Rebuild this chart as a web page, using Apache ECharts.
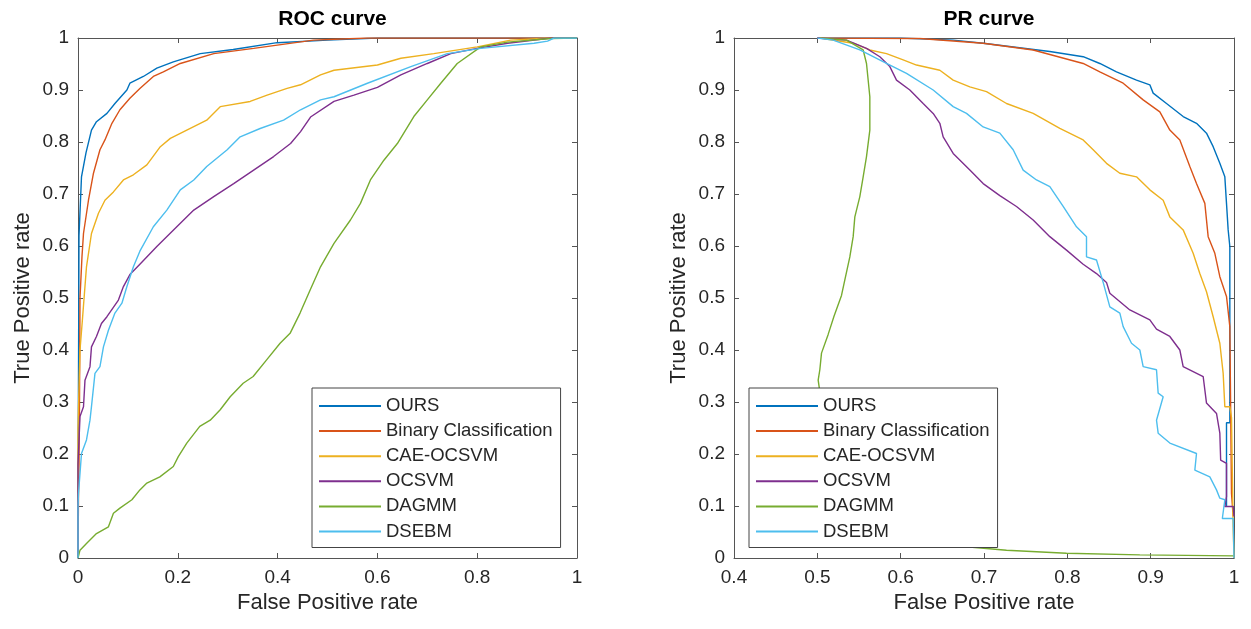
<!DOCTYPE html>
<html>
<head>
<meta charset="utf-8">
<script src="https://cdn.jsdelivr.net/npm/echarts@6/dist/echarts.min.js"></script>
<style>html,body{margin:0;padding:0;background:#fff;}#c{width:1251px;height:629px;}</style>
</head>
<body>
<div id="c"></div>
<script>
// ---------- DATA ----------
const seriesNames = ['OURS', 'Binary Classification', 'CAE-OCSVM', 'OCSVM', 'DAGMM', 'DSEBM'];
const seriesColors = ['#0072BD', '#D95319', '#EDB120', '#7E2F8E', '#77AC30', '#4DBEEE'];
const rocTicksX = [0, 0.2, 0.4, 0.6, 0.8, 1];
const prTicksX = [0.4, 0.5, 0.6, 0.7, 0.8, 0.9, 1];

const rocOurs = [[0,0],[0,0.1],[0.001,0.35],[0.002,0.62],[0.007,0.733],[0.016,0.779],[0.027,0.823],[0.037,0.839],[0.058,0.855],[0.074,0.874],[0.098,0.9],[0.104,0.913],[0.131,0.926],[0.158,0.942],[0.191,0.954],[0.245,0.97],[0.311,0.978],[0.399,0.991],[0.5,0.996],[0.6,1],[1,1]];
const rocBinary = [[0,0],[0.001,0.12],[0.002,0.18],[0.003,0.3],[0.004,0.5],[0.008,0.58],[0.011,0.624],[0.021,0.688],[0.031,0.74],[0.044,0.785],[0.054,0.804],[0.068,0.836],[0.084,0.862],[0.104,0.884],[0.124,0.903],[0.151,0.926],[0.171,0.935],[0.205,0.951],[0.272,0.97],[0.352,0.98],[0.472,0.996],[0.58,1],[1,1]];
const rocCae = [[0,0],[0,0.25],[0.001,0.291],[0.004,0.4],[0.009,0.46],[0.017,0.56],[0.027,0.624],[0.041,0.663],[0.054,0.688],[0.071,0.704],[0.091,0.727],[0.111,0.737],[0.138,0.756],[0.165,0.791],[0.185,0.807],[0.218,0.823],[0.258,0.842],[0.285,0.868],[0.345,0.878],[0.379,0.89],[0.419,0.903],[0.446,0.91],[0.486,0.929],[0.513,0.938],[0.6,0.948],[0.647,0.961],[0.713,0.97],[0.8,0.983],[0.867,0.996],[0.948,1],[1,1]];
const rocOcsvm = [[0,0],[0,0.18],[0.004,0.272],[0.011,0.291],[0.014,0.342],[0.024,0.368],[0.027,0.406],[0.037,0.426],[0.047,0.451],[0.058,0.464],[0.081,0.496],[0.091,0.522],[0.104,0.545],[0.124,0.565],[0.158,0.599],[0.198,0.637],[0.232,0.669],[0.272,0.695],[0.312,0.72],[0.352,0.746],[0.392,0.772],[0.426,0.797],[0.446,0.82],[0.466,0.848],[0.513,0.878],[0.553,0.89],[0.6,0.905],[0.647,0.929],[0.7,0.951],[0.747,0.97],[0.8,0.98],[0.861,0.99],[0.948,1],[1,1]];
const rocDagmm = [[0,0],[0.001,0.0025],[0.004,0.015],[0.017,0.028],[0.037,0.047],[0.061,0.06],[0.071,0.086],[0.084,0.096],[0.108,0.112],[0.124,0.131],[0.138,0.144],[0.164,0.156],[0.191,0.176],[0.201,0.195],[0.218,0.221],[0.244,0.253],[0.265,0.265],[0.285,0.285],[0.305,0.31],[0.331,0.336],[0.351,0.349],[0.378,0.381],[0.405,0.413],[0.425,0.432],[0.445,0.471],[0.465,0.515],[0.486,0.56],[0.513,0.605],[0.546,0.65],[0.566,0.682],[0.586,0.727],[0.613,0.765],[0.64,0.797],[0.673,0.849],[0.7,0.881],[0.727,0.913],[0.76,0.951],[0.807,0.983],[0.861,0.992],[0.948,0.999],[1,1]];
const rocDsebm = [[0,0],[0,0.1],[0.001,0.124],[0.007,0.201],[0.017,0.227],[0.024,0.265],[0.027,0.291],[0.034,0.355],[0.044,0.368],[0.051,0.406],[0.061,0.438],[0.074,0.471],[0.088,0.49],[0.098,0.522],[0.111,0.56],[0.124,0.59],[0.151,0.637],[0.178,0.669],[0.205,0.708],[0.232,0.727],[0.258,0.753],[0.299,0.785],[0.325,0.81],[0.365,0.826],[0.412,0.842],[0.446,0.862],[0.486,0.881],[0.513,0.887],[0.58,0.913],[0.667,0.945],[0.74,0.97],[0.807,0.98],[0.914,0.99],[0.941,0.994],[0.954,1],[1,1]];

const prOurs = [[0.5,1],[0.6,1],[0.663,0.996],[0.699,0.99],[0.779,0.974],[0.819,0.964],[0.839,0.951],[0.859,0.935],[0.883,0.919],[0.899,0.91],[0.903,0.894],[0.919,0.874],[0.939,0.849],[0.955,0.836],[0.967,0.817],[0.975,0.791],[0.983,0.759],[0.989,0.733],[0.991,0.682],[0.993,0.631],[0.995,0.599],[0.995,0.26],[0.991,0.26],[0.991,0.1]];
const prBinary = [[0.5,1],[0.623,0.999],[0.699,0.99],[0.759,0.977],[0.819,0.951],[0.839,0.935],[0.867,0.913],[0.891,0.881],[0.911,0.858],[0.923,0.823],[0.935,0.804],[0.947,0.753],[0.955,0.72],[0.965,0.682],[0.969,0.618],[0.977,0.586],[0.983,0.541],[0.991,0.503],[0.995,0.445],[0.997,0.124],[0.999,0.08]];
const prCae = [[0.503,1],[0.543,0.99],[0.563,0.977],[0.583,0.97],[0.603,0.958],[0.619,0.948],[0.647,0.938],[0.663,0.919],[0.683,0.906],[0.703,0.897],[0.727,0.874],[0.759,0.855],[0.791,0.826],[0.819,0.804],[0.831,0.785],[0.847,0.759],[0.863,0.74],[0.883,0.733],[0.899,0.708],[0.915,0.688],[0.923,0.656],[0.939,0.631],[0.951,0.586],[0.959,0.547],[0.967,0.512],[0.975,0.464],[0.983,0.413],[0.987,0.355],[0.989,0.291],[0.995,0.291],[0.997,0.27],[0.999,0.06],[1,0]];
const prOcsvm = [[0.5,1],[0.535,0.996],[0.559,0.98],[0.575,0.964],[0.587,0.945],[0.595,0.919],[0.611,0.9],[0.627,0.874],[0.639,0.855],[0.647,0.836],[0.651,0.81],[0.663,0.778],[0.683,0.746],[0.699,0.72],[0.719,0.697],[0.739,0.676],[0.759,0.65],[0.779,0.618],[0.799,0.592],[0.819,0.565],[0.835,0.547],[0.847,0.53],[0.851,0.509],[0.875,0.477],[0.899,0.458],[0.907,0.44],[0.923,0.426],[0.935,0.4],[0.939,0.368],[0.963,0.349],[0.967,0.298],[0.979,0.278],[0.983,0.24],[0.984,0.188],[0.991,0.182],[0.991,0.118],[0.989,0.099],[0.999,0.099],[1,0.08]];
const prDagmm = [[0.503,1],[0.535,0.996],[0.555,0.977],[0.559,0.951],[0.563,0.887],[0.563,0.823],[0.559,0.772],[0.555,0.733],[0.551,0.695],[0.545,0.656],[0.543,0.618],[0.539,0.579],[0.533,0.535],[0.529,0.505],[0.52,0.465],[0.513,0.43],[0.505,0.394],[0.503,0.362],[0.501,0.342],[0.503,0.32],[0.655,0.025],[0.727,0.015],[0.799,0.009],[0.887,0.006],[1,0.004]];
const prDsebm = [[0.5,1],[0.519,0.996],[0.551,0.977],[0.583,0.951],[0.607,0.932],[0.639,0.9],[0.663,0.868],[0.679,0.855],[0.699,0.829],[0.719,0.817],[0.735,0.785],[0.747,0.746],[0.763,0.727],[0.779,0.714],[0.795,0.676],[0.811,0.637],[0.823,0.618],[0.823,0.579],[0.835,0.573],[0.843,0.53],[0.851,0.483],[0.863,0.471],[0.867,0.445],[0.877,0.413],[0.887,0.4],[0.891,0.368],[0.907,0.362],[0.909,0.317],[0.915,0.31],[0.907,0.265],[0.909,0.24],[0.923,0.221],[0.955,0.201],[0.953,0.169],[0.971,0.156],[0.979,0.131],[0.983,0.115],[0.989,0.112],[0.986,0.076],[0.999,0.076],[1,0]];

const rocData = [rocOurs, rocBinary, rocCae, rocOcsvm, rocDagmm, rocDsebm];
const prData = [prOurs, prBinary, prCae, prOcsvm, prDagmm, prDsebm];

// ---------- CHART ----------
const FONT = '"Liberation Sans", Arial, Helvetica, sans-serif';
const AXIS_COLOR = '#555';
const TEXT_COLOR = '#262626';
const fmt = v => String(Math.round(v * 10) / 10);

function xAx(grid, pos, min, max, interval, show) {
  return {
    type: 'value', gridIndex: grid, position: pos, min, max, interval,
    axisLine: { show: true, onZero: false, lineStyle: { color: AXIS_COLOR, width: 1 } },
    axisTick: { show: true, inside: true, length: 5, lineStyle: { color: AXIS_COLOR } },
    axisLabel: { show: show, formatter: fmt, fontSize: 19, color: TEXT_COLOR, fontFamily: FONT, margin: 10 },
    splitLine: { show: false },
    name: show ? 'False Positive rate' : '',
    nameLocation: 'middle', nameGap: 34,
    nameTextStyle: { fontSize: 22, color: TEXT_COLOR, fontFamily: FONT }
  };
}
function yAx(grid, pos, show) {
  return {
    type: 'value', gridIndex: grid, position: pos, min: 0, max: 1, interval: 0.1,
    axisLine: { show: true, onZero: false, lineStyle: { color: AXIS_COLOR, width: 1 } },
    axisTick: { show: true, inside: true, length: 5, lineStyle: { color: AXIS_COLOR } },
    axisLabel: { show: show, formatter: fmt, fontSize: 19, color: TEXT_COLOR, fontFamily: FONT, margin: 9 },
    splitLine: { show: false },
    name: show ? 'True Positive rate' : '',
    nameLocation: 'middle', nameGap: 44,
    nameTextStyle: { fontSize: 22, color: TEXT_COLOR, fontFamily: FONT }
  };
}
function legendAt(left) {
  return {
    orient: 'vertical', left: left, top: 388,
    data: seriesNames,
    itemWidth: 62, itemHeight: 20, itemGap: 5.1,
    padding: [8, 8, 6, 7],
    borderColor: '#444', borderWidth: 1, borderRadius: 0,
    backgroundColor: '#fff',
    textStyle: { fontSize: 18.5, lineHeight: 20, color: TEXT_COLOR, fontFamily: FONT },
    icon: 'path://M0,9 L62,9 L62,11 L0,11 Z',
    selectedMode: false
  };
}

const series = [];
seriesNames.forEach((n, i) => {
  series.push({ name: n, type: 'line', xAxisIndex: 0, yAxisIndex: 0, data: rocData[i],
    symbol: 'none', color: seriesColors[i], lineStyle: { width: 1.4, color: seriesColors[i] }, animation: false });
});
seriesNames.forEach((n, i) => {
  series.push({ name: n, type: 'line', xAxisIndex: 2, yAxisIndex: 2, data: prData[i],
    symbol: 'none', color: seriesColors[i], lineStyle: { width: 1.4, color: seriesColors[i] }, animation: false });
});

const option = {
  backgroundColor: '#fff',
  animation: false,
  title: [
    { text: 'ROC curve', left: 327.5, top: 4, textAlign: 'center',
      textStyle: { fontSize: 21, fontWeight: 'bold', color: '#000', fontFamily: FONT } },
    { text: 'PR curve', left: 984, top: 4, textAlign: 'center',
      textStyle: { fontSize: 21, fontWeight: 'bold', color: '#000', fontFamily: FONT } }
  ],
  grid: [
    { left: 78, top: 38, width: 499, height: 520 },
    { left: 734, top: 38, width: 500, height: 520 }
  ],
  xAxis: [
    xAx(0, 'bottom', rocTicksX[0], rocTicksX[rocTicksX.length - 1], 0.2, true),
    xAx(0, 'top', rocTicksX[0], rocTicksX[rocTicksX.length - 1], 0.2, false),
    xAx(1, 'bottom', prTicksX[0], prTicksX[prTicksX.length - 1], 0.1, true),
    xAx(1, 'top', prTicksX[0], prTicksX[prTicksX.length - 1], 0.1, false)
  ],
  yAxis: [
    yAx(0, 'left', true), yAx(0, 'right', false),
    yAx(1, 'left', true), yAx(1, 'right', false)
  ],
  legend: [legendAt(312), legendAt(749)],
  series: series
};

const chart = echarts.init(document.getElementById('c'), null, { renderer: 'canvas' });
chart.setOption(option);
</script>
</body>
</html>
